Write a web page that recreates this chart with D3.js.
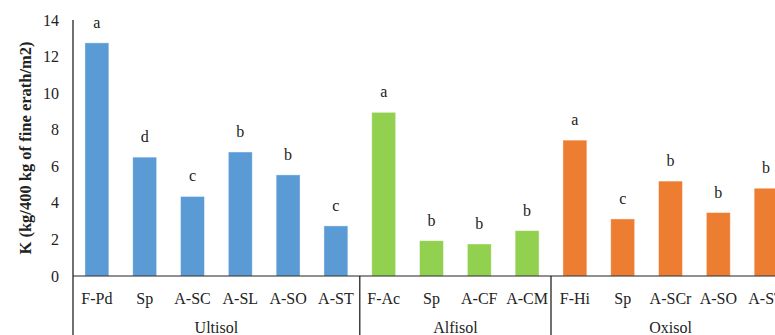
<!DOCTYPE html>
<html>
<head>
<meta charset="utf-8">
<script src="https://cdn.jsdelivr.net/npm/d3@7"></script>
<style>
  html, body { margin: 0; padding: 0; background: #fff; }
  svg { display: block; }
  text { font-family: "Liberation Serif", "Times New Roman", serif; fill: #222; }
</style>
</head>
<body>
<svg id="chart" width="775" height="335"></svg>
<script>
// Land-use categories per soil order
const categories = ["F-Pd", "Sp", "A-SC", "A-SL", "A-SO", "A-ST",
                    "F-Ac", "Sp", "A-CF", "A-CM",
                    "F-Hi", "Sp", "A-SCr", "A-SO", "A-ST"];
const soilOf = ["Ultisol", "Ultisol", "Ultisol", "Ultisol", "Ultisol", "Ultisol",
                "Alfisol", "Alfisol", "Alfisol", "Alfisol",
                "Oxisol", "Oxisol", "Oxisol", "Oxisol", "Oxisol"];
// K stock, kg per 400 kg of fine earth per m2
const values = [12.75, 6.5, 4.35, 6.78, 5.53, 2.74,
                8.95, 1.93, 1.75, 2.48,
                7.43, 3.12, 5.19, 3.47, 4.8];
// Mean separation letters
const letters = ["a", "d", "c", "b", "b", "c",
                 "a", "b", "b", "b",
                 "a", "c", "b", "b", "b"];
const soils = ["Ultisol", "Alfisol", "Oxisol"];
const soilColors = ["#5B9BD5", "#92D050", "#ED7D31"];
const yTicks = [0, 2, 4, 6, 8, 10, 12, 14];

const svg = d3.select("#chart");
const mLeft = 73, mTop = 20, base = 276, step = 47.8;
const slots = categories.map((c, i) => i);
const nSlots = 17; // the axis continues past the right edge of the view

const x = d3.scaleBand()
  .domain(d3.range(nSlots))
  .range([mLeft, mLeft + step * nSlots])
  .paddingInner(0.5)
  .paddingOuter(0.25);

const y = d3.scaleLinear().domain([0, 14]).range([base, mTop]);
const color = d3.scaleOrdinal().domain(soils).range(soilColors);

// bars
svg.append("g").selectAll("rect")
  .data(slots)
  .join("rect")
  .attr("x", i => x(i))
  .attr("y", i => y(values[i]))
  .attr("width", x.bandwidth())
  .attr("height", i => base - y(values[i]))
  .attr("fill", i => color(soilOf[i]))
  .attr("stroke", "#ffffff")
  .attr("stroke-opacity", 0.5)
  .attr("stroke-width", 0.8);

// significance letters
svg.append("g").selectAll("text")
  .data(slots)
  .join("text")
  .attr("x", i => x(i) + x.bandwidth() / 2)
  .attr("y", i => y(values[i]) - 15)
  .attr("text-anchor", "middle")
  .attr("font-size", 16)
  .text(i => letters[i]);

// y axis
const yAxis = d3.axisLeft(y).tickValues(yTicks).tickSize(0).tickPadding(14);
const gy = svg.append("g").attr("transform", `translate(${mLeft},0)`).call(yAxis);
gy.select(".domain").remove();
gy.selectAll("text").attr("font-size", 16)
  .attr("font-family", "Liberation Serif, serif").attr("fill", "#222");

svg.append("line")
  .attr("x1", mLeft).attr("x2", mLeft)
  .attr("y1", mTop).attr("y2", 335)
  .attr("stroke", "#111").attr("stroke-width", 1.2);

// baseline
svg.append("line")
  .attr("x1", mLeft).attr("x2", 775)
  .attr("y1", base).attr("y2", base)
  .attr("stroke", "#222").attr("stroke-width", 1.2);

// category labels
svg.append("g").selectAll("text")
  .data(slots)
  .join("text")
  .attr("x", i => x(i) + x.bandwidth() / 2)
  .attr("y", 304)
  .attr("text-anchor", "middle")
  .attr("font-size", 16)
  .text(i => categories[i]);

// soil order groups: separators and names
const groupSize = [6, 4, 7];
let start = 0;
soils.forEach((s, gi) => {
  const x0 = mLeft + step * start;
  const x1 = mLeft + step * (start + groupSize[gi]);
  if (gi > 0) {
    svg.append("line")
      .attr("x1", x0).attr("x2", x0)
      .attr("y1", base).attr("y2", 335)
      .attr("stroke", "#111").attr("stroke-width", 1.2);
  }
  const cx = gi === 2 ? mLeft + step * (start + 2.5) : (x0 + x1) / 2;
  svg.append("text")
    .attr("x", cx).attr("y", 333)
    .attr("text-anchor", "middle")
    .attr("font-size", 16)
    .text(s);
  start += groupSize[gi];
});

// y-axis title
svg.append("text")
  .attr("transform", "translate(31,148) rotate(-90)")
  .attr("text-anchor", "middle")
  .attr("font-size", 16.5)
  .attr("font-weight", "bold")
  .text("K (kg/400 kg of fine erath/m2)");
</script>
</body>
</html>
